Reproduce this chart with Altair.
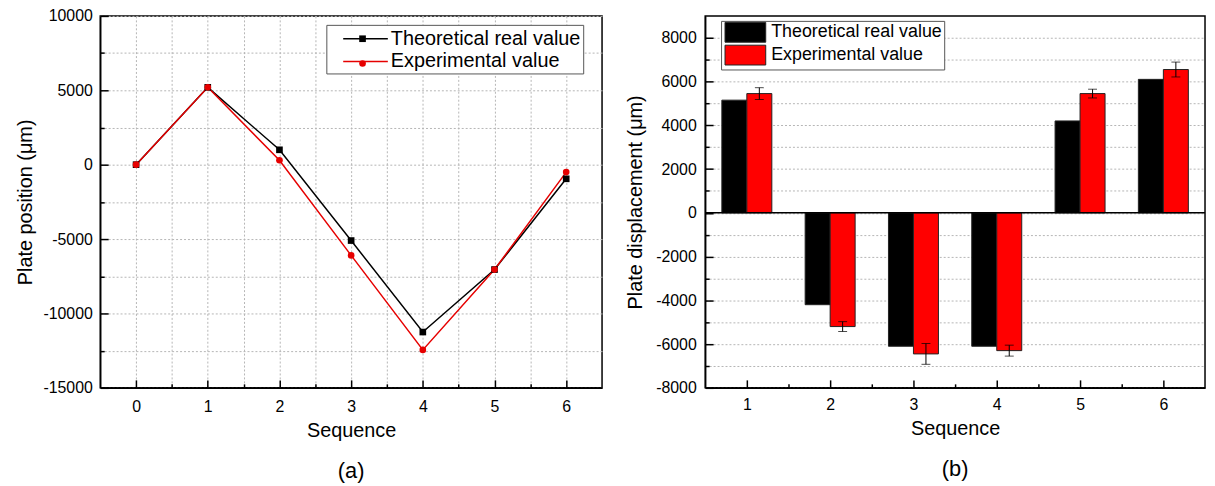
import altair as alt
import pandas as pd

# ---------------- data ----------------
series_names = ["Theoretical real value", "Experimental value"]
marker_keys = ["T", "E"]

# panel (a): plate position
seq_a = [0, 1, 2, 3, 4, 5, 6]
theo_pos = [0, 5200, 1000, -5100, -11250, -7050, -950]
exp_pos = [0, 5200, 300, -6100, -12450, -7050, -500]

# panel (b): plate displacement
seq_b = [1, 2, 3, 4, 5, 6]
theo_disp = [5150, -4200, -6100, -6100, 4200, 6100]
exp_disp = [5450, -5200, -6450, -6300, 5450, 6550]
exp_err = [270, 225, 475, 250, 200, 340]
baseline = [0]

# tick values
x_major_a = [0, 1, 2, 3, 4, 5, 6]
x_minor_a = [0.5, 1.5, 2.5, 3.5, 4.5, 5.5]
y_major_a = [-15000, -10000, -5000, 0, 5000, 10000]
y_minor_a = [-12500, -7500, -2500, 2500, 7500]
x_major_b = [1, 2, 3, 4, 5, 6]
x_minor_b = [1.5, 2.5, 3.5, 4.5, 5.5]
y_major_b = [-8000, -6000, -4000, -2000, 0, 2000, 4000, 6000, 8000]
y_minor_b = [-7000, -5000, -3000, -1000, 1000, 3000, 5000, 7000]

df_a = pd.DataFrame({
    "seq": seq_a + seq_a,
    "value": theo_pos + exp_pos,
    "series": [series_names[0]] * len(seq_a) + [series_names[1]] * len(seq_a),
    "mk": [marker_keys[0]] * len(seq_a) + [marker_keys[1]] * len(seq_a),
})
df_b = pd.DataFrame({
    "seq": seq_b + seq_b,
    "value": theo_disp + exp_disp,
    "series": [series_names[0]] * len(seq_b) + [series_names[1]] * len(seq_b),
})
df_err = pd.DataFrame({"seq": seq_b, "mean": exp_disp, "err": exp_err})
df_zero = pd.DataFrame({"z": baseline})

# ---------------- style ----------------
FONT = "Liberation Sans"
LINE_RED = "#e60000"
BAR_RED = "#ff0000"
LABEL_EXPR = "'' + datum.value"

xa_scale = alt.Scale(domain=[-0.5, 6.5], nice=False, zero=False)
ya_scale = alt.Scale(domain=[-15000, 10000], nice=False, zero=False)
xb_scale = alt.Scale(domain=[0.5, 6.5], nice=False, zero=False)
yb_scale = alt.Scale(domain=[-8000, 9000], nice=False, zero=False)


def major_axis(values, title, orient, pad, tpad, grid=True):
    return alt.Axis(values=values, title=title, orient=orient,
                    tickSize={"expr": "-8"}, labelPadding=pad, titlePadding=tpad,
                    labelExpr=LABEL_EXPR, grid=grid)


def minor_axis(values, orient, grid=True):
    return alt.Axis(values=values, title=None, orient=orient,
                    tickSize={"expr": "-4"}, labels=False, domain=False, grid=grid)


# ---------------- panel (a) ----------------
legend_line = alt.Legend(
    orient="none", legendX=228, legendY=9, title=None, padding=2,
    symbolType="M0,0H4", symbolSize=506.25, symbolStrokeWidth=1.5, symbolOffset=3,
    labelFontSize=20, labelOffset=36, labelLimit=400, rowPadding=1,
    strokeColor="#555555", fillColor="white",
)
legend_mk = alt.Legend(
    orient="none", legendX=228, legendY=9, title=None, padding=2,
    symbolSize=45, symbolStrokeWidth=0, symbolOffset=22.5,
    labelFontSize=24, labelExpr="''", labelLimit=400, rowPadding=1,
)

line_a = alt.Chart(df_a).mark_line(strokeWidth=1.5).encode(
    x=alt.X("seq:Q", scale=xa_scale, axis=major_axis(x_major_a, "Sequence", "bottom", 19, 6)),
    y=alt.Y("value:Q", scale=ya_scale, axis=major_axis(y_major_a, "Plate position (μm)", "left", 16, 7)),
    color=alt.Color("series:N", scale=alt.Scale(domain=series_names, range=["black", LINE_RED]),
                    legend=legend_line),
)
pts_a = alt.Chart(df_a).mark_point(filled=True, size=45, opacity=1, strokeWidth=0).encode(
    x=alt.X("seq:Q", scale=xa_scale, axis=minor_axis(x_minor_a, "bottom")),
    y=alt.Y("value:Q", scale=ya_scale, axis=minor_axis(y_minor_a, "left")),
    shape=alt.Shape("mk:N", scale=alt.Scale(domain=marker_keys, range=["square", "circle"]),
                    legend=legend_mk),
    fill=alt.Fill("mk:N", scale=alt.Scale(domain=marker_keys, range=["black", LINE_RED]),
                  legend=legend_mk),
)
left = alt.layer(line_a, pts_a).resolve_axis(x="independent", y="independent").properties(
    width=506, height=375,
    title=alt.TitleParams("(a)", orient="bottom", frame="group", anchor="middle", offset=21),
)

# ---------------- panel (b) ----------------
legend_bar = alt.Legend(
    orient="none", legendX=16, legendY=5, title=None, padding=2,
    symbolType="M0,-1.11H4.56V1.11H0Z", symbolSize=324, symbolStrokeWidth=1,
    symbolStrokeColor="#222222", symbolOffset=-7.5,
    labelFontSize=18, labelOffset=37, labelLimit=400, rowPadding=-2,
    strokeColor="#555555", fillColor="white",
)

bars = alt.Chart(df_b).transform_calculate(
    x0="datum.seq + (datum.series == 'Theoretical real value' ? -0.3 : 0)",
    x1="datum.seq + (datum.series == 'Theoretical real value' ? 0 : 0.3)",
).mark_bar(stroke="#222222", strokeWidth=1).encode(
    x=alt.X("x0:Q", scale=xb_scale, axis=major_axis(x_major_b, "Sequence", "bottom", 17, 6, grid=False)),
    x2="x1:Q",
    y=alt.Y("value:Q", scale=yb_scale, axis=major_axis(y_major_b, "Plate displacement (μm)", "left", 17, 10)),
    y2=alt.datum(0),
    color=alt.Color("series:N", scale=alt.Scale(domain=series_names, range=["black", BAR_RED]),
                    legend=legend_bar),
)

err_base = alt.Chart(df_err).transform_calculate(
    xc="datum.seq + 0.15", lo="datum.mean - datum.err", hi="datum.mean + datum.err"
)
err_rule = err_base.mark_rule(color="black", strokeWidth=1).encode(
    x=alt.X("xc:Q", scale=xb_scale, axis=minor_axis(x_minor_b, "bottom", grid=False)),
    y=alt.Y("lo:Q", scale=yb_scale, axis=minor_axis(y_minor_b, "left")),
    y2="hi:Q",
)
err_caps = err_base.transform_fold(["lo", "hi"], as_=["k", "v"]).mark_tick(
    orient="horizontal", size=9, thickness=1, color="black"
).encode(
    x=alt.X("xc:Q", scale=xb_scale, axis=None),
    y=alt.Y("v:Q", scale=yb_scale, axis=None),
)
zero_line = alt.Chart(df_zero).mark_rule(color="black", strokeWidth=1.5).encode(
    y=alt.Y("z:Q", scale=yb_scale, axis=None),
)

right = alt.layer(bars, err_rule, err_caps, zero_line).resolve_axis(
    x="independent", y="independent"
).properties(
    width=504, height=375,
    title=alt.TitleParams("(b)", orient="bottom", frame="group", anchor="middle", offset=21),
)

chart = alt.hconcat(left, right, spacing=104, bounds="flush").resolve_scale(
    color="independent"
).resolve_legend(
    color="independent"
).properties(
    padding={"left": 7, "top": -3, "right": 0, "bottom": 0}
).configure_view(
    stroke="black", strokeWidth=1.5
).configure_axis(
    labelFont=FONT, titleFont=FONT, labelFontSize=16, titleFontSize=20,
    titleFontWeight="normal", labelColor="black", titleColor="black",
    domainColor="black", domainWidth=1.5, tickColor="black", tickWidth=1.5,
    gridColor="#b5b5b5", gridDash=[2, 2], gridWidth=1,
    labelFlush=False, labelOverlap=False,
).configure_legend(
    labelFont=FONT, labelColor="black",
).configure_title(
    font=FONT, fontSize=22, fontWeight="normal", color="black",
)

chart.save("out.html", embed_options={"renderer": "svg", "actions": False})
